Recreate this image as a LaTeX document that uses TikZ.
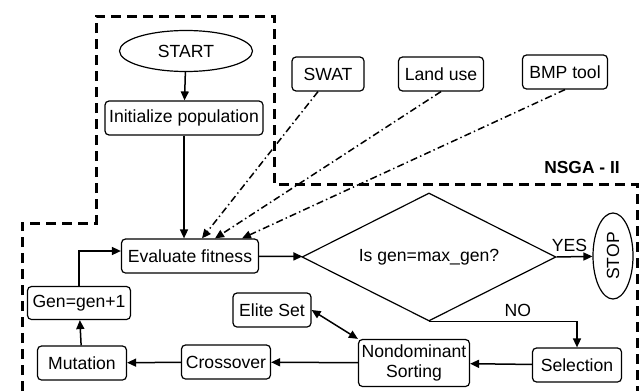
\documentclass[tikz,border=0pt]{standalone}
\usepackage{fontspec}
\setmainfont{Liberation Sans}
\usetikzlibrary{shapes.geometric,arrows.meta}
\tikzset{
  box/.style={draw,rounded corners=2pt,line width=0.6pt,inner sep=1pt,minimum height=17pt},
  term/.style={draw,ellipse,line width=0.6pt,inner sep=0pt},
  flow/.style={line width=0.75pt,-{Triangle[length=4.5pt,width=4pt]}},
  feed/.style={flow,dash pattern=on 3.5pt off 1.6pt on 0.7pt off 1.6pt},
  frame/.style={line width=1.5pt,dash pattern=on 5pt off 3pt}
}
\begin{document}
\begin{tikzpicture}[x=0.5pt,y=-0.5pt,font=\fontsize{8.8}{10}\selectfont]
			\useasboundingbox (0,0) rectangle (642,391);
			\draw[frame] (22,391) -- (22,223) -- (96,223) -- (96,16) -- (274,16) -- (274,184) -- (637,184) -- (637,391);%NSGA-II
			\node[font=\fontsize{8.7}{10}\selectfont\bfseries] (nsga) at (582,168) {NSGA - II};
			
			\node[term,minimum width=66.5pt,minimum height=20.5pt] (start) at (186,51) {START};
			\node[box,minimum width=79pt] (init) at (184,118) {Initialize population};
			\node[box,minimum width=36pt] (swat) at (328,74) {SWAT};
			\node[box,minimum width=42.5pt] (land) at (441,74) {Land use};
			\node[box,minimum width=42.5pt] (bmp) at (565,72) {BMP tool};
			\node[box,minimum width=68.5pt] (eval) at (190,256) {Evaluate fitness};
			\node[draw,diamond,aspect=2,line width=0.6pt,inner sep=0pt,minimum width=127pt,minimum height=64pt] (test) at (429,257) {Is gen=max\_gen?};
			\node[term,rotate=90,minimum width=43pt,minimum height=20pt] (stop) at (613,256) {STOP};
			\node[box,minimum width=44.5pt] (sel) at (577,365) {Selection};
			\node[box,minimum width=55.5pt,minimum height=23.5pt,align=center,font=\fontsize{8.8}{9.6}\selectfont] (nds) at (414,363) {Nondominant\\Sorting};
			\node[box,minimum width=39pt] (elite) at (272,310) {Elite Set};
			\node[box,minimum width=44.5pt] (cross) at (226,362) {Crossover};
			\node[box,minimum width=44.5pt] (mut) at (82,363) {Mutation};
			\node[box,minimum width=51.5pt,minimum height=16.5pt] (gen) at (79,303) {Gen=gen+1};
			
			\draw[flow] (start) -- (init);
			\draw[flow] (init.south) -- (init.south |- eval.north);
			\draw[feed] ([xshift=-5pt]swat.south) -- ([xshift=6pt]eval.north);
			\draw[feed] (land.south) -- ([xshift=12.5pt]eval.north);
			\draw[feed] (bmp.south) -- ([xshift=26pt]eval.north);
			\draw[flow] (eval) -- (test);
			\draw[flow] (test.east) -- (stop) node[pos=0.36,above,yshift=-1pt] {YES};
			\draw[flow] (test.south) -| (sel.north) node[pos=0.3,above,yshift=-1pt] {NO};
			\draw[flow] (sel) -- (nds);
			\draw[flow,{Triangle[length=4.5pt,width=4pt]}-{Triangle[length=4.5pt,width=4pt]}] (elite.east) -- (nds.north west);
			\draw[flow] (nds) -- (cross);
			\draw[flow] (cross) -- (mut);
			\draw[flow] (mut) -- (gen);
			\draw[flow] (gen.north) |- ([yshift=2.5pt]eval.west);
		\end{tikzpicture}
\end{document}
